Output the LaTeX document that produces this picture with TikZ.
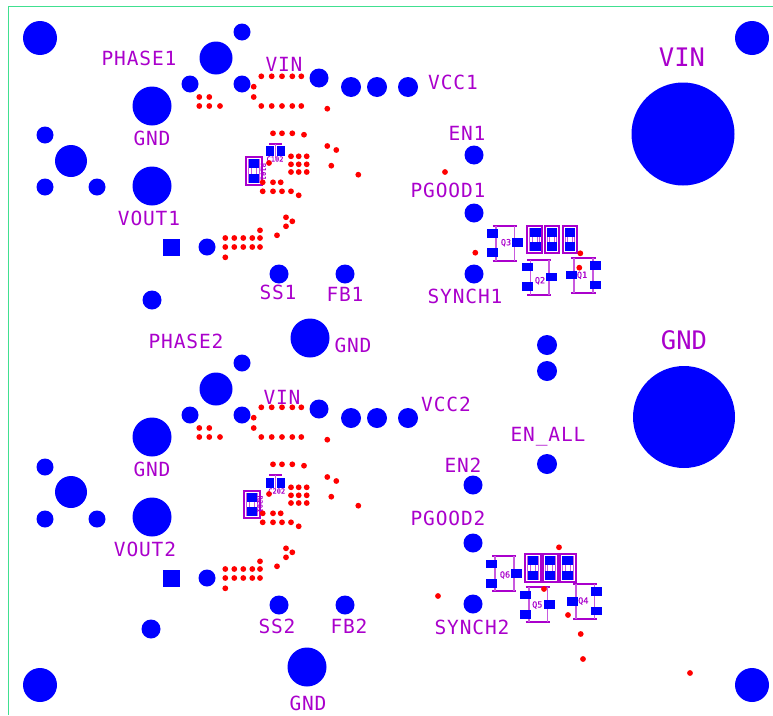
\documentclass[tikz,border=0pt]{standalone}
\usepackage{fontspec}
\setmainfont{DejaVu Sans Mono}
\definecolor{bl}{HTML}{0000FF}
\definecolor{rd}{HTML}{FF0000}
\definecolor{pu}{HTML}{AA00CC}
\definecolor{grn}{HTML}{40E090}
\newfontfamily\lbl[LetterSpace=4.4]{DejaVu Sans Mono}
\newfontfamily\lbb{DejaVu Sans Mono}
\newfontfamily\lbs[FakeBold=0.3]{DejaVu Sans Mono}
\tikzset{
 lab/.style={text=pu,inner sep=0,font=\lbl\fontsize{19.5}{20}\selectfont},
 biglab/.style={text=pu,inner sep=0,font=\lbb\fontsize{25.5}{26}\selectfont},
 tiny/.style={text=pu,inner sep=0,font=\lbs\fontsize{8.5}{9}\selectfont},
 tinyer/.style={text=pu,inner sep=0,font=\lbs\fontsize{7}{7}\selectfont},
 compthick/.style={draw=pu,line width=2pt},
 lite/.style={draw=pu!65,line width=1.6pt},
}
\newcommand{\dotsat}[1]{\foreach \px/\py in {#1}{\fill[rd] (\px,\py) circle (2.9);}}
\newcommand{\padsat}[1]{\foreach \px/\py/\pr in {#1}{\fill[bl] (\px,\py) circle (\pr);}}
\newcommand{\rpad}[4]{\fill[bl] (#1-#3/2,#2-#4/2) rectangle (#1+#3/2,#2+#4/2);}
% Q body: xl xr yt yb sl sr
\newcommand{\qbody}[6]{\draw[compthick] (#1,#3)--(#2,#3) (#1,#4)--(#2,#4);\draw[lite] (#5,#3)--(#5,#4) (#6,#3)--(#6,#4);}
% cap box: xl xr yt yb px
\newcommand{\capbox}[5]{\draw[compthick] (#1,#3) rectangle (#2,#4);
\draw[lite,line width=.9pt] (#1+2.4,#3+2.4) rectangle (#2-2.4,#4-2.4);
\draw[lite,line width=.9pt] (#5-2.5,#3+4)--(#5-2.5,#4-4) (#5+2.5,#3+4)--(#5+2.5,#4-4);
\rpad{#5}{#3+6.6}{10.6}{8.9}\rpad{#5}{#4-6.6}{10.6}{8.9}}
\begin{document}
\begin{tikzpicture}[x=1pt,y=-1pt]
\useasboundingbox (0,0) rectangle (773,715);
\fill[white] (0,0) rectangle (773,715);
\draw[grn,line width=.8pt] (8.5,715)--(8.5,6.5)--(773,6.5);
% pads
\padsat{40/38/17,752/38/17,40/685/17,752/685/17,
216/58/16.5,242/32/8.5,190/84/8.5,242/84/8.5,152/106/19.5,45/135/8.5,71/161/16,45/187/8.5,97/187/8.5,152/186/19.5,207/247/8.5,152/300/9.5,279/274/9.5,345/274/9.5,319/78/9.5,351/87/10,377/87/10,408/87/10,474/155/9.5,474/213/9.5,474/274/9.5,
683/134/51.5,684/417/51,310/338/19.5,547/345/10,547/371/10,547/464/10,
216/389/16.5,242/363/8.5,190/415/8.5,242/415/8.5,152/437/19.5,45/467/8.5,71/492/16,45/519/8.5,97/519/8.5,152/517/19.5,207/578/8.5,151/629/9.5,279/605/9.5,345/605/9.5,319/409/9.5,351/418/10,377/418/10,408/418/10,473/485/9.5,473/543/9.5,473/604/9.5,307/667/19.5}
\rpad{171}{247}{17}{17}
\rpad{171}{578}{17}{17}
% top small parts
\draw[compthick] (269.3,144)--(282,144);
\draw[lite] (275.6,144)--(275.6,158);
\rpad{270}{151}{8}{10}\rpad{281}{151}{8}{10}
\node[tinyer] (c1) at (275,159) {C102};
\draw[compthick] (269.3,475.3)--(282,475.3);
\draw[lite] (275.6,475.3)--(275.6,489);
\rpad{270}{482.7}{8}{10}\rpad{281}{482.7}{8}{10}
\node[tinyer] (c2) at (276.7,491) {C202};
\capbox{246}{261.7}{156.7}{184.7}{254}
\node[tinyer,rotate=-90] (r1) at (263.3,171.7) {R101};
\capbox{244.3}{260}{490.7}{518.3}{252}
\node[tinyer,rotate=-90] (r2) at (260,504) {R201};
% Q
\qbody{492.7}{516.7}{225.7}{260.7}{495.7}{514.3}
\node[tiny] (q3) at (506,242.7) {Q3};
\rpad{492.7}{233.7}{11}{8.5}\rpad{492.7}{252.7}{11}{8.5}\rpad{517.3}{242.7}{11}{8.5}
\qbody{527.3}{551}{259.7}{294.7}{530.3}{549}
\node[tiny] (q2) at (540,280.7) {Q2};
\rpad{527.3}{267}{11}{8.5}\rpad{527.3}{286.7}{11}{8.5}\rpad{551.3}{277}{11}{8.5}
\qbody{571.3}{595.7}{257.7}{292.7}{574}{592.7}
\node[tiny] (q1) at (582,275.3) {Q1};
\rpad{595.7}{265.7}{11}{8.5}\rpad{595.7}{285}{11}{8.5}\rpad{571.7}{275}{11}{8.5}
\qbody{492}{516}{556}{591.3}{495}{513.7}
\node[tiny] (q6) at (505,575) {Q6};
\rpad{491.3}{564}{11}{8.5}\rpad{491.3}{583.7}{11}{8.5}\rpad{516.3}{573.7}{11}{8.5}
\qbody{525.7}{550}{587.3}{622.3}{528.7}{547.3}
\node[tiny] (q5) at (537.3,605) {Q5};
\rpad{525.3}{595}{11}{8.5}\rpad{525.3}{614.7}{11}{8.5}\rpad{549.3}{604.7}{11}{8.5}
\qbody{573}{596.7}{583.7}{619}{575.7}{594.3}
\node[tiny] (q4) at (583.3,601) {Q4};
\rpad{596.7}{591.7}{11}{8.5}\rpad{596.7}{611}{11}{8.5}\rpad{572.7}{601.7}{11}{8.5}
\capbox{527.3}{542}{226}{253.3}{535.3}
\capbox{544.7}{559.3}{226}{253.3}{552}
\capbox{562.7}{577.3}{226}{253.3}{570}
\capbox{525}{540.7}{553.7}{581.7}{533}
\capbox{542.7}{558}{553.7}{581.7}{550}
\capbox{560.3}{575.7}{553.7}{581.7}{567.7}
% red dots
\foreach \dy in {0,331}{
\begin{scope}[yshift=-\dy pt]
\dotsat{261.3/76.3,271.7/76.3,282/76.3,292.3/76.3,301.3/76.3,253.7/86.7,253.7/97,261.3/106,271.7/106,282/106,292.3/106,301.3/106,199.3/97,209.3/97,199.3/106,209.3/106,220/106,327.3/108.7,273/133.3,282/133.3,292.3/133.3,304/134.7,327.3/146,336.3/150,331.3/165.7,358.3/174.7,291/156.3,298.7/156.3,306.7/156.3,291/164.3,298.7/164.3,306.7/164.3,291/172,298.7/172,306.7/172,269/163,262.7/182.3,273/182.3,280.7/182.3,262.7/191.3,273/191.3,282/191.3,291/191.3,298.7/195.3,286/217.3,292.3/221.3,286/226.3,277/235.3,260/230.3,225.3/238,234.3/238,243.3/238,252.3/238,260/238,225.3/247,234.3/247,243.3/247,252.3/247,260/247,225.3/257.3}
\end{scope}}
\dotsat{445/172,475.3/252.7,580.3/253.3,579.3/267.7,438/596,559/547.3,544/589,568/615,580.7/634,583/659,690/673}
% labels
\node[lab] (t1) at (139,58) {PHASE1};
\node[lab] (t2) at (284,64) {VIN};
\node[lab] (t3) at (453,82) {VCC1};
\node[lab] (t4) at (152,138) {GND};
\node[lab] (t5) at (467,133) {EN1};
\node[lab] (t6) at (448,190) {PGOOD1};
\node[lab] (t7) at (149,218) {VOUT1};
\node[lab] (t8) at (278,292) {SS1};
\node[lab] (t9) at (345,294) {FB1};
\node[lab] (t10) at (465,296) {SYNCH1};
\node[lab] (t11) at (186,341) {PHASE2};
\node[lab] (t12) at (353,345) {GND};
\node[lab] (t13) at (282,397) {VIN};
\node[lab] (t14) at (446,404) {VCC2};
\node[lab] (t15) at (152,469) {GND};
\node[lab] (t16) at (548,437) {EN\_ALL};
\node[lab] (t17) at (463,465) {EN2};
\node[lab] (t18) at (448,518) {PGOOD2};
\node[lab] (t19) at (145,549) {VOUT2};
\node[lab] (t20) at (277,626) {SS2};
\node[lab] (t21) at (349,626) {FB2};
\node[lab] (t22) at (472,627) {SYNCH2};
\node[lab] (t23) at (308,703) {GND};
\node[biglab] (t24) at (682,57) {VIN};
\node[biglab] (t25) at (684,340) {GND};
\end{tikzpicture}
\end{document}
